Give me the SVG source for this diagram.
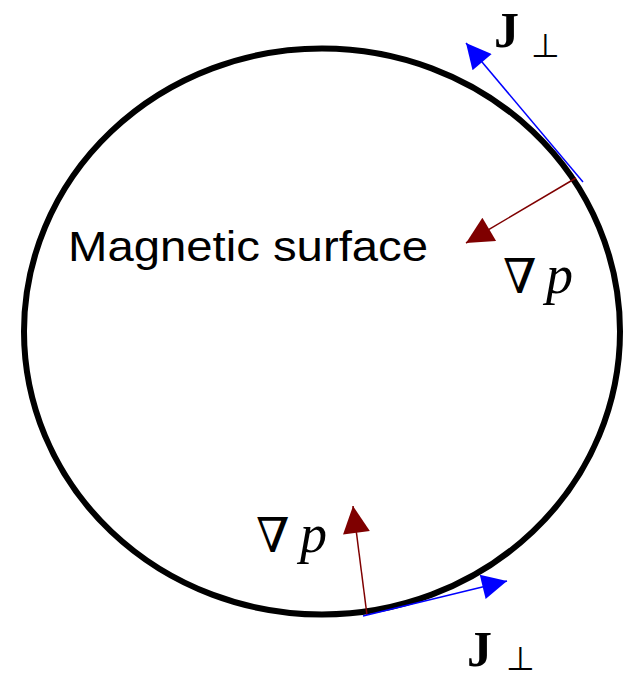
<svg xmlns="http://www.w3.org/2000/svg" width="625" height="678" viewBox="0 0 625 678">
  <style>
    .surf { fill: none; stroke: #000; stroke-width: 6; }
    .blue { stroke: #0000ff; stroke-width: 1.5; fill: none; }
    .red { stroke: #7f0000; stroke-width: 1.5; fill: none; }
    .lbl { font-family: "Liberation Sans", Arial, sans-serif; font-size: 42px; fill: #000; }
    .nabla { font-family: "DejaVu Serif", "Liberation Serif", serif; font-size: 48px; fill: #000; }
    .pit { font-family: "Liberation Serif", "DejaVu Serif", serif; font-style: italic; font-size: 54px; fill: #000; }
    .J { font-family: "Liberation Serif", "DejaVu Serif", serif; font-weight: bold; font-size: 50px; fill: #000; }
    .perp { font-family: "DejaVu Sans", "Liberation Sans", sans-serif; font-size: 33px; fill: #000; }
  </style>
  <defs>
    <marker id="headBlue" viewBox="0 0 10 10" refX="10" refY="5" markerWidth="36" markerHeight="25" markerUnits="userSpaceOnUse" orient="auto">
      <path d="M0,0 L10,5 L0,10 z" fill="#0000ff"/>
    </marker>
    <marker id="headRed" viewBox="0 0 10 10" refX="10" refY="5" markerWidth="35" markerHeight="27" markerUnits="userSpaceOnUse" orient="auto">
      <path d="M0,0 L10,5 L0,10 z" fill="#7f0000"/>
    </marker>
  </defs>

  <g id="surface">
    <ellipse class="surf" cx="322" cy="331.5" rx="298" ry="283"/>
    <text class="lbl" x="68" y="261" textLength="360" lengthAdjust="spacingAndGlyphs">Magnetic surface</text>
  </g>

  <g id="connectors">
    <line class="blue" x1="583" y1="182" x2="466" y2="43" marker-end="url(#headBlue)"/>
    <line class="red" x1="576" y1="178" x2="466" y2="243" marker-end="url(#headRed)"/>
    <line class="red" x1="367" y1="615" x2="353" y2="506" marker-end="url(#headRed)"/>
    <line class="blue" x1="363" y1="616" x2="507" y2="581" marker-end="url(#headBlue)"/>
  </g>

  <g id="label-J-top">
    <text class="J" x="494" y="47">J</text>
    <text class="perp" x="531" y="57">⊥</text>
  </g>
  <g id="label-gradp-right">
    <text class="nabla" x="503" y="293">∇</text>
    <text class="pit" x="546" y="293">p</text>
  </g>
  <g id="label-gradp-bottom">
    <text class="nabla" x="256" y="552">∇</text>
    <text class="pit" x="300" y="552">p</text>
  </g>
  <g id="label-J-bottom">
    <text class="J" x="467" y="666">J</text>
    <text class="perp" x="506" y="670">⊥</text>
  </g>
</svg>
